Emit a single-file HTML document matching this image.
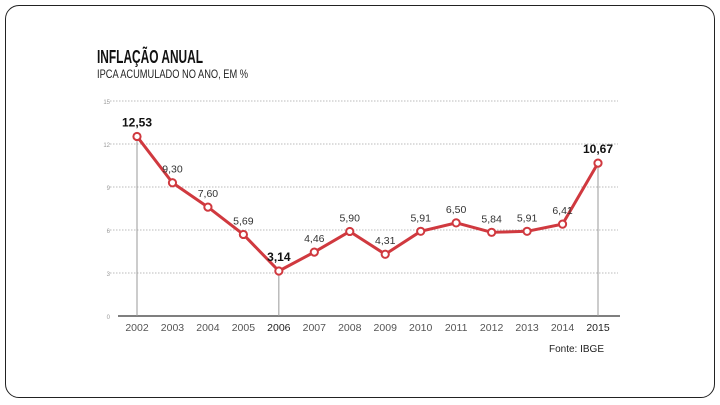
<!DOCTYPE html>
<html><head><meta charset="utf-8"><style>
body{margin:0;width:720px;height:405px;background:#fff;overflow:hidden;font-family:"Liberation Sans",sans-serif}
#frame{position:absolute;left:5px;top:5px;width:708px;height:391px;border:1.5px solid #222;border-radius:14px}
</style></head><body>
<div id="frame"></div>
<svg width="720" height="405" style="position:absolute;left:0;top:0">
<text x="97" y="63" font-size="18" font-weight="bold" fill="#111" textLength="106" lengthAdjust="spacingAndGlyphs">INFLAÇÃO ANUAL</text>
<text x="97" y="78" font-size="12" fill="#222" textLength="151" lengthAdjust="spacingAndGlyphs">IPCA ACUMULADO NO ANO, EM %</text>
<g id="grid"></g><g id="marks"></g>
<text x="604" y="352" font-size="10" fill="#222" text-anchor="end">Fonte: IBGE</text>
</svg>
<script>
const years=["2002","2003","2004","2005","2006","2007","2008","2009","2010","2011","2012","2013","2014","2015"];
const values=[12.53,9.30,7.60,5.69,3.14,4.46,5.90,4.31,5.91,6.50,5.84,5.91,6.41,10.67];
const labels=["12,53","9,30","7,60","5,69","3,14","4,46","5,90","4,31","5,91","6,50","5,84","5,91","6,41","10,67"];
const yTicks=[0,3,6,9,12,15];
const boldIdx=[0,4,13];
const NS="http://www.w3.org/2000/svg";
const x=i=>137+i*(461/13), y=v=>316-v*14.33;
function mk(t,a,p){const e=document.createElementNS(NS,t);for(const k in a)e.setAttribute(k,a[k]);p.appendChild(e);return e;}
const g=document.getElementById('grid'),m=document.getElementById('marks');
yTicks.forEach(t=>{
 if(t>0){const l=mk('line',{x1:110,x2:618,y1:y(t),y2:y(t),stroke:'#bbb','stroke-dasharray':'1.5 1.5','stroke-width':1},g);
 }
 const tx=mk('text',{x:110,y:y(t)+3,'font-size':6,fill:'#999','text-anchor':'end'},g);tx.textContent=t;
 
});
const ax=mk('line',{x1:118,x2:620,y1:316,y2:316,stroke:'#555','stroke-width':1.5},g);

years.forEach((yr,i)=>{const b=boldIdx.includes(i);
 if(b){const d=mk('line',{x1:x(i),x2:x(i),y1:y(values[i]),y2:316,stroke:'#999','stroke-width':1},g);
 }
 const t=mk('text',{x:x(i),y:331,'font-size':10.5,fill:b&&i>0?'#222':'#555','text-anchor':'middle'},g);t.textContent=yr;
 
});
const pl=mk('polyline',{points:values.map((v,i)=>x(i)+','+y(v)).join(' '),fill:'none',stroke:'#d0393f','stroke-width':3,'stroke-linejoin':'round'},m);

values.forEach((v,i)=>{
 const c=mk('circle',{cx:x(i),cy:y(v),r:3.6,fill:'#fff',stroke:'#d0393f','stroke-width':2},m);
 
 const b=boldIdx.includes(i);
 const t=mk('text',{x:x(i),y:y(v)-10,'font-size':b?12:10.5,'font-weight':b?'bold':'normal',fill:b?'#111':'#333','text-anchor':'middle'},m);
 t.textContent=labels[i];
});
</script>
</body></html>
